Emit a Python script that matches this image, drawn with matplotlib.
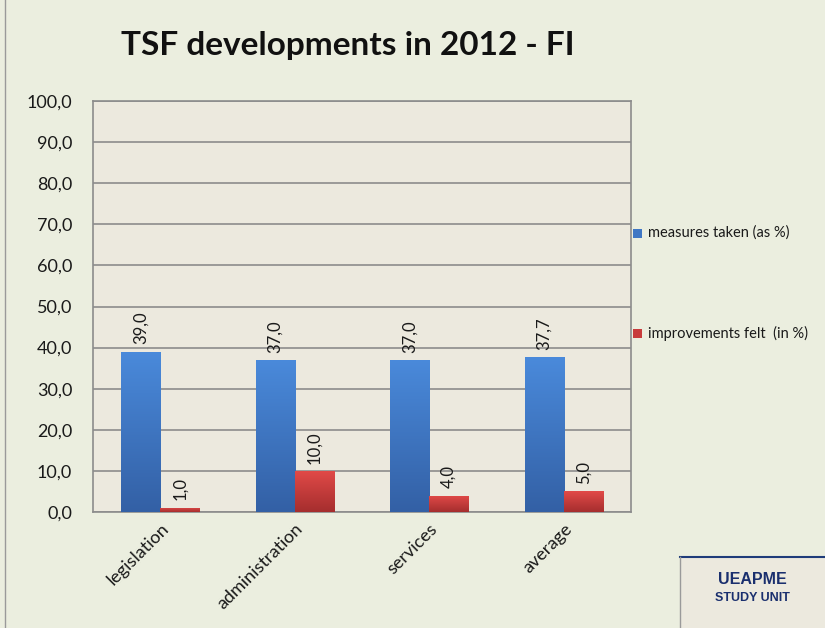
import matplotlib
matplotlib.use("Agg")
import matplotlib.pyplot as plt
import numpy as np
from matplotlib.patches import Rectangle
from matplotlib.colors import LinearSegmentedColormap

categories = ["legislation", "administration", "services", "average"]
measures = [39.0, 37.0, 37.0, 37.7]
improvements = [1.0, 10.0, 4.0, 5.0]
series_names = ["measures taken (as %)", "improvements felt  (in %)"]
yticks = [0, 10, 20, 30, 40, 50, 60, 70, 80, 90, 100]

FONT = "Lato"
fig = plt.figure(figsize=(8.25, 6.28), dpi=100)
fig.patch.set_facecolor("#EBEEDF")
W, H = 825, 628
ax = fig.add_axes([93 / W, 1 - 512 / H, (631 - 93) / W, (512 - 101) / H])
ax.set_facecolor("#ECE9DE")

x = np.arange(len(categories))
bw = 0.29
blue_cmap = LinearSegmentedColormap.from_list("b", ["#3360A5", "#4A8ADB"])
red_cmap = LinearSegmentedColormap.from_list("r", ["#A52E2E", "#E24A48"])

def grad_bars(xs, vals, cmap, color):
    bars = ax.bar(xs, vals, bw, color=color, zorder=3, linewidth=0)
    grad = np.linspace(0, 1, 256).reshape(-1, 1)
    for b in bars:
        x0, y0 = b.get_x(), b.get_y()
        w, h = b.get_width(), b.get_height()
        im = ax.imshow(grad, cmap=cmap, origin="lower", aspect="auto",
                       extent=[x0, x0 + w, y0, y0 + h], zorder=4)
        im.set_clip_path(b)
    return bars

b1 = grad_bars(x - bw / 2, measures, blue_cmap, "#3F77C4")
b2 = grad_bars(x + bw / 2, improvements, red_cmap, "#C83C3C")

for bars, vals in ((b1, measures), (b2, improvements)):
    for b, v in zip(bars, vals):
        ax.text(b.get_x() + b.get_width() / 2, v + 1.8, f"{v:.1f}".replace(".", ","),
                rotation=90, ha="center", va="bottom", fontsize=12,
                family=FONT, color="#1a1a1a", zorder=5)

ax.set_xlim(-0.5, len(categories) - 0.5)
ax.set_ylim(0, 100)
ax.set_yticks(yticks)
ax.set_yticklabels([f"{v:.1f}".replace(".", ",") for v in yticks],
                   fontsize=13, family=FONT, color="#1a1a1a")
ax.set_xticks(x)
ax.set_xticklabels(categories, rotation=45, ha="right", va="top",
                   rotation_mode="anchor", fontsize=13, family=FONT, color="#1a1a1a")
ax.tick_params(axis="y", length=0, pad=15)
ax.tick_params(axis="x", length=0, pad=6)
ax.grid(axis="y", color="#8C8C8C", linewidth=1.2, zorder=1)
for s in ax.spines.values():
    s.set_color("#8C8C8C")
    s.set_linewidth(1.2)

fig.text(348 / W, 1 - 45 / H, "TSF developments in 2012 - FI", ha="center", va="center",
         fontsize=24, fontweight="bold", family=FONT, color="#111111")

# legend
for yy, col, name in ((233, "#3F77C4", series_names[0]), (333, "#C83C3C", series_names[1])):
    fig.patches.append(Rectangle((633 / W, 1 - (yy + 5) / H), 9 / W, 9 / H,
                                 transform=fig.transFigure, facecolor=col, edgecolor="none"))
    fig.text(648 / W, 1 - yy / H, name, ha="left", va="center", fontsize=10.5,
             family=FONT, color="#1a1a1a")

# left border line
fig.add_artist(plt.Line2D([5 / W, 5 / W], [0, 1], color="#9A9A9A", linewidth=1))

# logo box
fig.patches.append(Rectangle((680 / W, 0), (W - 680) / W, (628 - 557) / H,
                             transform=fig.transFigure, facecolor="#ECE9DE", edgecolor="none"))
fig.add_artist(plt.Line2D([680 / W, 1], [1 - 557 / H, 1 - 557 / H], color="#1F3C7A", linewidth=1.5))
fig.add_artist(plt.Line2D([680 / W, 680 / W], [0, 1 - 557 / H], color="#9A9A9A", linewidth=1))
fig.text(752 / W, 1 - 580 / H, "UEAPME", ha="center", va="center", fontsize=11.5,
         fontweight="bold", family="Liberation Sans", color="#1A2F6E")
fig.text(752 / W, 1 - 598 / H, "STUDY UNIT", ha="center", va="center", fontsize=9,
         fontweight="bold", family="Liberation Sans", color="#1A2F6E")

fig.savefig("out.png", dpi=100, facecolor=fig.get_facecolor())
